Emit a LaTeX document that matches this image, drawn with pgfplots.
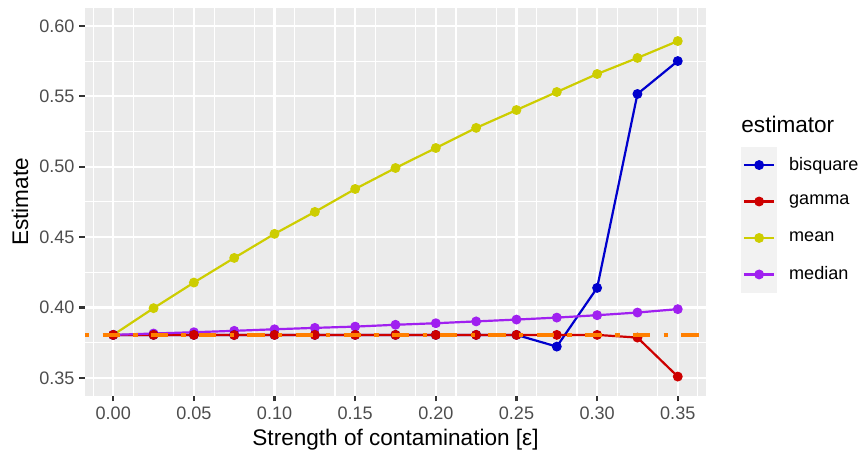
\documentclass[border=0pt]{standalone}
\usepackage{fontspec}
\setmainfont{Liberation Sans}
\usepackage{pgfplots}
\pgfplotsset{compat=1.18}
\usepackage{pgfplotstable}

\definecolor{panelbg}{HTML}{EBEBEB}
\definecolor{keybg}{HTML}{F2F2F2}
\definecolor{gray30}{HTML}{4D4D4D}
\definecolor{gray20}{HTML}{333333}
\definecolor{cbis}{HTML}{0000CD}
\definecolor{cgam}{HTML}{CD0000}
\definecolor{cmean}{HTML}{CDCD00}
\definecolor{cmed}{HTML}{A020F0}
\definecolor{cref}{HTML}{FF7F00}

% estimates per contamination level
\pgfplotstableread{
eps   bisquare gamma  mean   median
0.000 0.3805   0.3805 0.3805 0.3805
0.025 0.3805   0.3805 0.3995 0.3815
0.050 0.3805   0.3805 0.4177 0.3824
0.075 0.3805   0.3804 0.4352 0.3834
0.100 0.3805   0.3805 0.4523 0.3845
0.125 0.3805   0.3805 0.4679 0.3855
0.150 0.3805   0.3805 0.4842 0.3864
0.175 0.3805   0.3805 0.4991 0.3877
0.200 0.3805   0.3805 0.5133 0.3888
0.225 0.3805   0.3805 0.5276 0.3901
0.250 0.3805   0.3805 0.5403 0.3914
0.275 0.3722   0.3805 0.5531 0.3928
0.300 0.4139   0.3805 0.5659 0.3945
0.325 0.5517   0.3786 0.5773 0.3964
0.350 0.5751   0.3509 0.5893 0.3988
}\est

\begin{document}
\begin{tikzpicture}
\begin{axis}[
    width=302.6pt, height=189pt, scale only axis,
    xmin=-0.0175, xmax=0.3675, ymin=0.3372, ymax=0.6128,
    clip mode=individual,
    xtick={0,0.05,0.10,0.15,0.20,0.25,0.30,0.35},
    ytick={0.35,0.40,0.45,0.50,0.55,0.60},
    minor xtick={-0.0125,0.0125,0.0375,0.0625,0.0875,0.1125,0.1375,0.1625,0.1875,0.2125,0.2375,0.2625,0.2875,0.3125,0.3375,0.3625},
    minor ytick={0.375,0.425,0.475,0.525,0.575},
    grid=both,
    major grid style={white, line width=1.07pt},
    minor grid style={white, line width=0.53pt},
    axis background/.style={fill=panelbg},
    axis line style={draw=none},
    tick align=outside, major tick length=2.75pt, minor tick length=0pt,
    tick style={gray20, line width=1.07pt},
    xtick pos=left, ytick pos=left,
    scaled x ticks=false, scaled y ticks=false,
    /pgf/number format/assume math mode=true,
    /pgf/number format/fixed, /pgf/number format/fixed zerofill,
    /pgf/number format/precision=2,
    ticklabel style={font=\fontsize{8.8}{10}\selectfont, text=gray30},
    xticklabel style={inner sep=0pt, yshift=-2.2pt},
    yticklabel style={inner sep=0pt, xshift=-2.2pt},
    xlabel={Strength of contamination [ε]},
    ylabel={Estimate},
    label style={font=\fontsize{11}{13}\selectfont},
    xlabel style={at={(axis description cs:0.5,-0.1289)}, anchor=base},
    ylabel style={at={(axis description cs:-0.1047,0.5)}, anchor=center},
    legend style={draw=none, fill=none, inner sep=0pt, outer sep=0pt,
        at={(1.0564,0.6418)}, anchor=north west,
        row sep=0.1pt, column sep=5.8pt,
        font=\fontsize{8.8}{10}\selectfont,
        nodes={inner sep=0pt}},
    legend cell align=left,
    legend image code/.code={
        \fill[keybg] (0pt,-8.3pt) rectangle (16.6pt,8.3pt);
        \draw[mark repeat=2, mark phase=2, #1] plot coordinates {(1pt,0pt) (8.3pt,0pt) (15.6pt,0pt)};
    },
    every axis plot/.append style={line width=1.07pt, mark size=2.15pt, mark options={line width=0.5pt}},
]
% lines
\addplot[cbis, no marks, forget plot] table[x=eps, y=bisquare]{\est};
\addplot[cgam, no marks, forget plot] table[x=eps, y=gamma]{\est};
\addplot[cmean, no marks, forget plot] table[x=eps, y=mean]{\est};
\addplot[cmed, no marks, forget plot] table[x=eps, y=median]{\est};
% points
\addplot[cmean, only marks, mark=*, forget plot] table[x=eps, y=mean]{\est};
\addplot[cmed, only marks, mark=*, forget plot] table[x=eps, y=median]{\est};
\addplot[cbis, only marks, mark=*, forget plot] table[x=eps, y=bisquare]{\est};
\addplot[cgam, only marks, mark=*, forget plot] table[x=eps, y=gamma]{\est};
% reference value
\addplot[cref, line width=2.1pt, dash pattern=on 2.1pt off 6.5pt on 8.4pt off 6.5pt, forget plot]
    coordinates {(-0.0175,0.3803) (0.3675,0.3803)};

\addlegendimage{cbis, mark=*}\addlegendentry{bisquare}
\addlegendimage{cgam, mark=*}\addlegendentry{gamma}
\addlegendimage{cmean, mark=*}\addlegendentry{mean}
\addlegendimage{cmed, mark=*}\addlegendentry{median}

\node[anchor=base west, inner sep=0pt, font=\fontsize{11}{13}\selectfont]
    at (rel axis cs:1.0564,0.678) {estimator};
\path (rel axis cs:-0.1369,1.0206) rectangle (rel axis cs:1.248,-0.1443);
\end{axis}
\end{tikzpicture}
\end{document}
